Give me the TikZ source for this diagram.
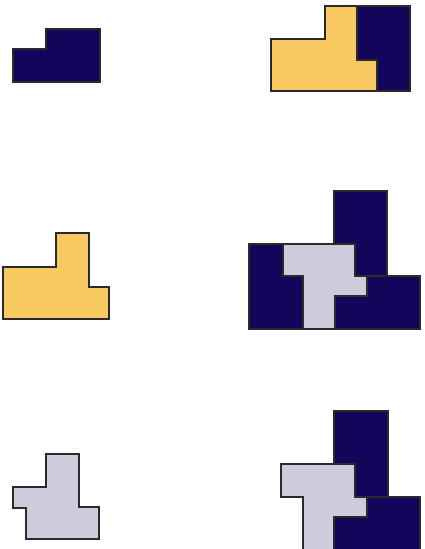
\documentclass[tikz,border=0pt]{standalone}
\definecolor{navy}{HTML}{12065A}
\definecolor{gold}{HTML}{F9C962}
\definecolor{lilac}{HTML}{CDCBDC}
\definecolor{edge}{HTML}{2A2A2A}
\tikzset{
  piece/.style={draw=edge, line width=1.3pt, line join=miter},
  bluepiece/.style={piece, fill=navy},
  goldpiece/.style={piece, fill=gold},
  greypiece/.style={piece, fill=lilac}
}
\begin{document}
\begin{tikzpicture}[x=1pt,y=-1pt]
\useasboundingbox (0,0) rectangle (424,549);
\clip (0,0) rectangle (424,549);
% row 1
\draw[bluepiece] (13,49) -- (46,49) -- (46,29) -- (100,29) -- (100,82) -- (13,82) -- cycle;
\draw[goldpiece] (271,39) -- (325,39) -- (325,6) -- (357,6) -- (357,60) -- (377,60) -- (377,91) -- (271,91) -- cycle;
\draw[bluepiece] (357,6) -- (410,6) -- (410,91) -- (377,91) -- (377,60) -- (357,60) -- cycle;
% row 2
\draw[goldpiece] (3,267) -- (56,267) -- (56,233) -- (89,233) -- (89,287) -- (109,287) -- (109,319) -- (3,319) -- cycle;
\draw[bluepiece] (249,244) -- (283,244) -- (283,276) -- (303,276) -- (303,329) -- (249,329) -- cycle;
\draw[bluepiece] (334,191) -- (387,191) -- (387,276) -- (355,276) -- (355,244) -- (334,244) -- cycle;
\draw[bluepiece] (367,276) -- (420,276) -- (420,329) -- (335,329) -- (335,296) -- (367,296) -- cycle;
\draw[greypiece] (283,244) -- (355,244) -- (355,276) -- (367,276) -- (367,296) -- (335,296) -- (335,329) -- (303,329) -- (303,276) -- (283,276) -- cycle;
% row 3
\draw[greypiece] (13,487) -- (46,487) -- (46,454) -- (79,454) -- (79,507) -- (99,507) -- (99,539) -- (26,539) -- (26,508) -- (13,508) -- cycle;
\draw[bluepiece] (334,411) -- (388,411) -- (388,497) -- (355,497) -- (355,464) -- (334,464) -- cycle;
\draw[bluepiece] (367,497) -- (420,497) -- (420,552) -- (334,552) -- (334,517) -- (367,517) -- cycle;
\draw[greypiece] (281,464) -- (355,464) -- (355,497) -- (367,497) -- (367,517) -- (334,517) -- (334,552) -- (303,552) -- (303,497) -- (281,497) -- cycle;
\end{tikzpicture}
\end{document}
